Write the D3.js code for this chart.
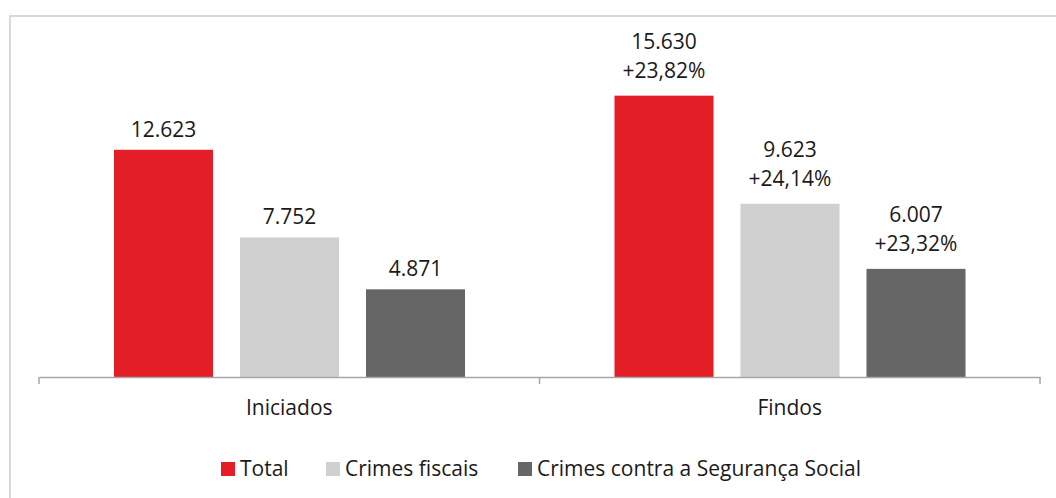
<!DOCTYPE html>
<html>
<head>
<meta charset="utf-8">
<script src="https://cdn.jsdelivr.net/npm/d3@7"></script>
<style>
  body { margin: 0; background: #fff; }
  text { font-family: "Open Sans", sans-serif; fill: #1a1a1a; }
</style>
</head>
<body>
<div id="chart"></div>
<script>
const width = 1056, height = 498;

const groups = ["Iniciados", "Findos"];
const series = ["Total", "Crimes fiscais", "Crimes contra a Segurança Social"];
const colors = ["#e31e26", "#d0d0d0", "#666666"];
const iniciados = [12623, 7752, 4871];
const findos = [15630, 9623, 6007];
const variacao = ["", "", "", "+23,82%", "+24,14%", "+23,32%"];

const valueLabels = [iniciados, findos].flatMap(function (vals, g) {
    return vals.map(function (v, s) {
        return { group: groups[g], series: series[s], value: v, pct: variacao[g * 3 + s] };
    });
});

const svg = d3.select("#chart")
    .append("svg")
    .attr("width", width)
    .attr("height", height);

// outer frame (only top and left edge visible)
svg.append("rect")
    .attr("x", 10)
    .attr("y", 16)
    .attr("width", 1100)
    .attr("height", 600)
    .attr("fill", "none")
    .attr("stroke", "#d9d9d9")
    .attr("stroke-width", 2);

const x0 = d3.scaleBand()
    .domain(groups)
    .range([39, 1040])
    .paddingInner(0)
    .paddingOuter(0);

const x1 = d3.scaleBand()
    .domain(series)
    .range([75, 426])
    .paddingInner(27 / 126)
    .paddingOuter(0);

const y = d3.scaleLinear()
    .domain([0, 20000])
    .range([377, 17]);

const fmt = d3.formatLocale({ decimal: ",", thousands: ".", grouping: [3], currency: ["", "€"] }).format(",");

const bars = svg.append("g");

bars.selectAll("rect")
    .data(valueLabels)
    .enter()
    .append("rect")
    .attr("x", d => x0(d.group) + x1(d.series))
    .attr("y", d => y(d.value))
    .attr("width", x1.bandwidth())
    .attr("height", d => y(0) - y(d.value))
    .attr("fill", (d, i) => colors[i % 3]);

// value labels
const labels = svg.append("g")
    .attr("text-anchor", "middle")
    .style("font-size", "21px");

labels.selectAll("text.val")
    .data(valueLabels)
    .enter()
    .append("text")
    .attr("class", "val")
    .attr("x", d => x0(d.group) + x1(d.series) + x1.bandwidth() / 2)
    .attr("y", d => d.pct ? y(d.value) - 47 : y(d.value) - 13)
    .text(d => fmt(d.value));

labels.selectAll("text.pct")
    .data(valueLabels.filter(d => d.pct))
    .enter()
    .append("text")
    .attr("class", "pct")
    .attr("x", d => x0(d.group) + x1(d.series) + x1.bandwidth() / 2)
    .attr("y", d => y(d.value) - 18)
    .text(d => d.pct);

// x axis
const xAxis = svg.append("g")
    .attr("transform", "translate(0,377)")
    .call(d3.axisBottom(x0).tickSize(0).tickFormat(""));

xAxis.select(".domain").attr("stroke", "#a6a6a6").attr("stroke-width", 1.5);

svg.append("g")
    .selectAll("line")
    .data([x0.range()[0], x0(groups[1]), x0.range()[1]])
    .enter()
    .append("line")
    .attr("x1", d => d).attr("x2", d => d)
    .attr("y1", 377).attr("y2", 384)
    .attr("stroke", "#a6a6a6")
    .attr("stroke-width", 1.5);

svg.append("g")
    .selectAll("text")
    .data(groups)
    .enter()
    .append("text")
    .attr("x", d => x0(d) + x0.bandwidth() / 2)
    .attr("y", 415)
    .attr("text-anchor", "middle")
    .style("font-size", "21px")
    .text(d => d);

// legend
const legendX = [221, 326, 518];
const legend = svg.append("g");
const items = legend.selectAll("g")
    .data(series)
    .enter()
    .append("g")
    .attr("transform", (d, i) => `translate(${legendX[i]},462)`);

items.append("rect")
    .attr("width", 14)
    .attr("height", 14)
    .attr("fill", (d, i) => colors[i]);

items.append("text")
    .attr("x", 19)
    .attr("y", 14)
    .style("font-size", "21px")
    .text(d => d);
</script>
</body>
</html>
